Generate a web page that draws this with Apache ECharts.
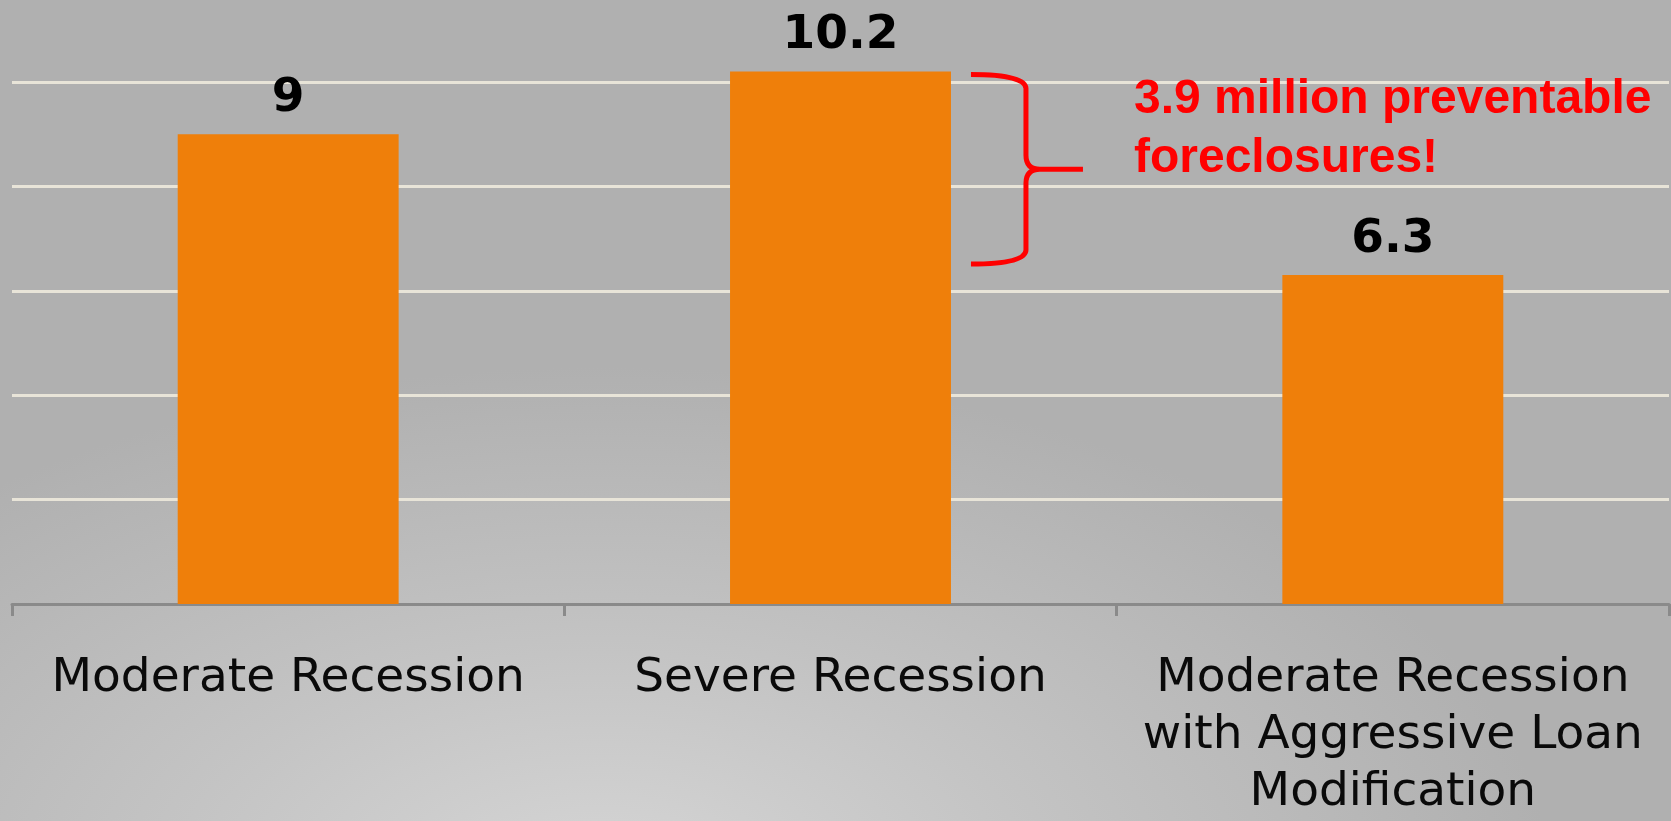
<!DOCTYPE html>
<html>
<head>
<meta charset="utf-8">
<script src="https://cdn.jsdelivr.net/npm/echarts@6/dist/echarts.min.js"></script>
<style>
	html, body { margin: 0; padding: 0; }
	#chart {
		width: 1671px;
		height: 821px;
		background: radial-gradient(ellipse 950px 520px at 36% 108%, #d6d6d6 0%, #c4c4c4 45%, #b0b0b0 100%);
	}
</style>
</head>
<body>
<div id="chart"></div>
<script>
// scenario names and foreclosures (millions)
var categories = [
	'Moderate Recession',
	'Severe Recession',
	'Moderate Recession\nwith Aggressive Loan\nModification'
];
var foreclosures = [9, 10.2, 6.3];

// the brace spans from the severe bar down to the loan-modification value
var braceCategory = 1;
var braceFrom     = 10.2;
var braceTo       = 6.3;
var braceText     = '3.9 million preventable\nforeclosures!';

var yMin      = 0;
var yMax      = 11.57;
var yInterval = 2;

var myChart = echarts.init(document.getElementById('chart'));

function renderBrace(params, api) {
	var top    = api.coord([api.value(0), api.value(1)]);
	var bottom = api.coord([api.value(0), api.value(2)]);
	var band   = api.size([1, 0])[0];
	var x0 = top[0] + band * 0.2 + 20;
	var xv = x0 + 55;
	var xt = x0 + 112;
	var y1 = top[1] + 3;
	var y2 = bottom[1] - 11;
	var ym = (y1 + y2) / 2;
	var r  = 14;
	var d = 'M' + x0 + ',' + y1 +
		' Q' + xv + ',' + y1 + ' ' + xv + ',' + (y1 + r) +
		' L' + xv + ',' + (ym - r) +
		' Q' + xv + ',' + ym + ' ' + (xv + r) + ',' + ym +
		' L' + xt + ',' + ym +
		' M' + (xv + r) + ',' + ym +
		' Q' + xv + ',' + ym + ' ' + xv + ',' + (ym + r) +
		' L' + xv + ',' + (y2 - r) +
		' Q' + xv + ',' + y2 + ' ' + x0 + ',' + y2;
	return {
		type: 'group',
		children: [
			{
				type: 'path',
				shape: { pathData: d },
				style: { stroke: '#ff0000', lineWidth: 5, fill: null }
			},
			{
				type: 'text',
				x: xt + 51,
				y: top[1] - 1,
				style: {
					text: braceText,
					font: 'bold 48px "Liberation Sans"',
					fill: '#ff0000',
					lineHeight: 59,
					verticalAlign: 'top'
				}
			}
		]
	};
}

myChart.setOption({
	animation: false,
	grid: {
		left: 12,
		right: 2,
		top: 0,
		bottom: 216,
		containLabel: false
	},
	xAxis: {
		type: 'category',
		data: categories,
		axisLine: {
			lineStyle: { color: '#8a8a8a', width: 3 }
		},
		axisTick: {
			show: true,
			length: 12,
			lineStyle: { color: '#8a8a8a', width: 3 }
		},
		axisLabel: {
			interval: 0,
			margin: 46,
			color: '#0a0a0a',
			fontFamily: 'DejaVu Sans',
			fontSize: 47,
			lineHeight: 57
		}
	},
	yAxis: {
		type: 'value',
		min: yMin,
		max: yMax,
		interval: yInterval,
		axisLabel: { show: false },
		axisLine: { show: false },
		axisTick: { show: false },
		splitLine: {
			showMaxLine: false,
			lineStyle: { color: '#e8e4d8', width: 3 }
		}
	},
	series: [
		{
			type: 'bar',
			data: foreclosures,
			barWidth: '40%',
			itemStyle: { color: '#ef7f0a' },
			label: {
				show: true,
				position: 'top',
				distance: 12,
				color: '#000',
				fontFamily: 'DejaVu Sans',
				fontWeight: 'bold',
				fontSize: 47
			}
		},
		{
			type: 'custom',
			renderItem: renderBrace,
			encode: { x: 0, y: [1, 2] },
			data: [[braceCategory, braceFrom, braceTo]],
			z: 5
		}
	]
});
</script>
</body>
</html>
